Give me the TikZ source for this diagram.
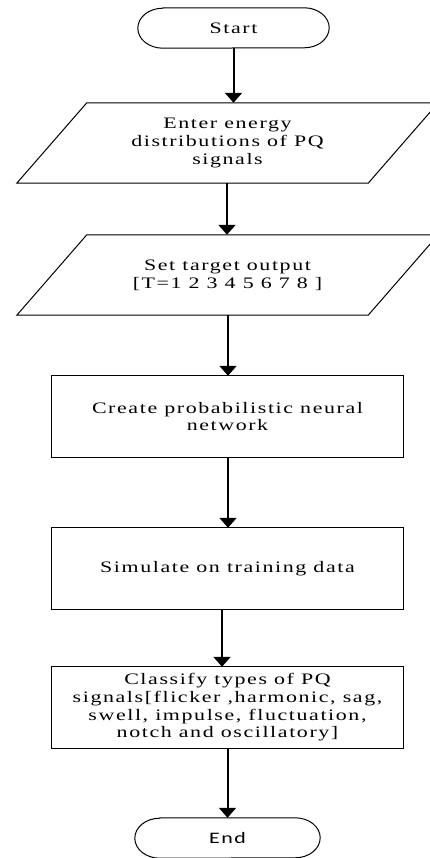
\documentclass[tikz,border=0pt]{standalone}
\usepackage{fontspec}
\setmainfont{Liberation Serif}[FakeStretch=1.37,LetterSpace=10]
\newfontfamily\labelsans{Carlito}[FakeStretch=1.37,LetterSpace=10]
\usetikzlibrary{arrows.meta}

\tikzset{
  box/.style={draw=none, minimum height=81pt, inner sep=0pt, align=center,
    font=\fontsize{16}{17.7}\selectfont, text=black},
  outline/.style={draw=black, line width=1pt},
  flow/.style={line width=2pt, -{Triangle[width=17pt,length=10pt]}},
}

\begin{document}
\begin{tikzpicture}[x=1pt,y=1pt]
  \useasboundingbox[fill=white] (0,0) rectangle (429,-858);

  % terminals
  \node[box, minimum width=191pt, minimum height=40pt] (st) at (233.5,-28) {Start};
  \node[box, minimum width=185pt, minimum height=40pt] (en) at (227.5,-838) {\labelsans End};

  % input / output parallelograms
  \node[box, minimum height=80pt, minimum width=421pt] (p1) at (227.5,-143)
    {Enter energy\\distributions of PQ\\signals};
  \node[box, minimum height=80pt, minimum width=421pt] (p2) at (227.5,-275)
    {Set target output\\{}[T=1 2 3 4 5 6 7 8 ]};

  % process boxes
  \node[box, minimum width=351pt] (r1) at (227.5,-416.5)
    {Create probabilistic neural\\network};
  \node[box, minimum width=351pt] (r2) at (227.5,-568.5)
    {Simulate on training data};
  \node[box, minimum width=351pt] (r3) at (227.5,-707.5)
    {Classify types of PQ\\signals[flicker ,harmonic, sag,\\swell, impulse, fluctuation,\\notch and oscillatory]};

  % outlines of the terminals (elliptic ends)
  \foreach \n in {st,en}{
    \draw[outline] ([xshift=25pt]\n.north west) -- ([xshift=-25pt]\n.north east)
      arc[start angle=90, end angle=-90, x radius=25pt, y radius=20pt]
      -- ([xshift=25pt]\n.south west)
      arc[start angle=270, end angle=90, x radius=25pt, y radius=20pt] -- cycle;
  }

  % outlines of the parallelograms
  \foreach \n in {p1,p2}{
    \draw[outline] (\n.south west) -- ([xshift=-70pt]\n.south east)
      -- (\n.north east) -- ([xshift=70pt]\n.north west) -- cycle;
  }

  % outlines of the process boxes
  \foreach \n in {r1,r2,r3}{
    \draw[outline] (\n.south west) rectangle (\n.north east);
  }

  % connectors
  \draw[flow] (st.south) -- (st.south |- p1.north);
  \draw[flow] ([xshift=-0.5pt]p1.south) -- ([xshift=-0.5pt]p1.south |- p2.north);
  \draw[flow] ([xshift=0.5pt]p2.south) -- ([xshift=0.5pt]p2.south |- r1.north);
  \draw[flow] ([xshift=0.5pt]r1.south) -- ([xshift=0.5pt]r1.south |- r2.north);
  \draw[flow] ([xshift=-5.5pt]r2.south) -- ([xshift=-5.5pt]r2.south |- r3.north);
  \draw[flow] (r3.south) -- (r3.south |- en.north);
\end{tikzpicture}
\end{document}
